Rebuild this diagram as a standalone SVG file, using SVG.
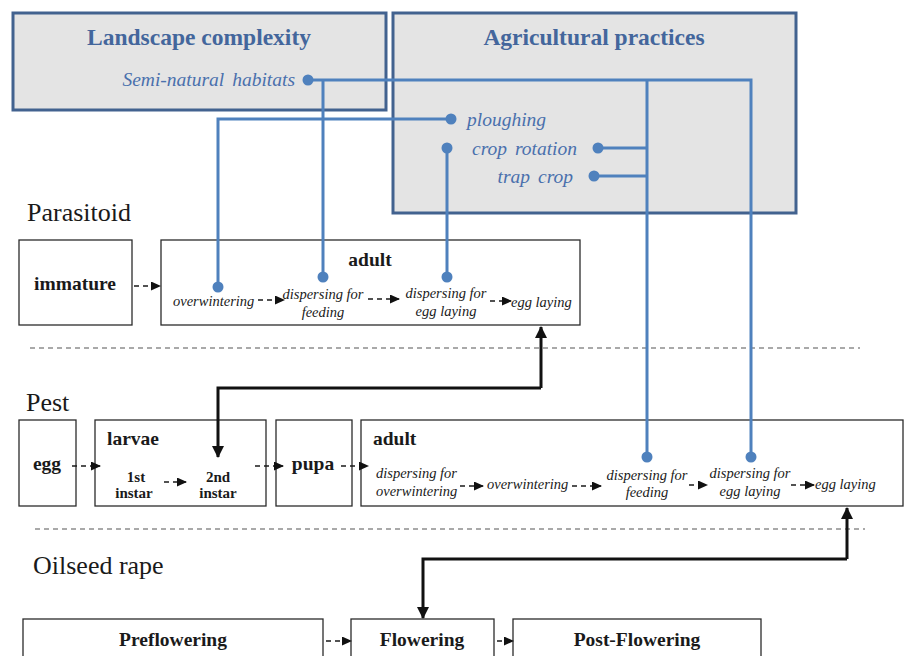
<svg xmlns="http://www.w3.org/2000/svg" width="905" height="656" viewBox="0 0 905 656">
<style>
text{font-family:"Liberation Serif","Times New Roman",serif}
.frame{fill:#e4e4e4;stroke:#42628f;stroke-width:3}
.title{font-size:23.5px;font-weight:bold;fill:#43669c;text-anchor:middle}
.prac{font-size:19.5px;font-style:italic;fill:#4a70ad}
.box{fill:#fff;stroke:#2b2b2b;stroke-width:1.3}
.b{font-size:19.5px;font-weight:bold;fill:#1a1a1a}
.bs{font-size:15px;font-weight:bold;fill:#1a1a1a;text-anchor:middle}
.i{font-size:14.5px;font-style:italic;fill:#1a1a1a}
.c{text-anchor:middle}
.row{font-size:26px;fill:#1a1a1a}
.blue{fill:none;stroke:#4f81bd;stroke-width:3}
.dot{fill:#4f81bd}
.dash{fill:none;stroke:#1a1a1a;stroke-width:1.5;stroke-dasharray:5 4;marker-end:url(#ah)}
.thick{fill:none;stroke:#111;stroke-width:3;marker-end:url(#big)}
.sep{stroke:#555;stroke-width:1.2;stroke-dasharray:5 4}
</style>
<defs>
<marker id="ah" markerWidth="10" markerHeight="9" refX="9" refY="4.5" orient="auto" markerUnits="userSpaceOnUse">
<path d="M0,0 L10,4.5 L0,9 Z" fill="#111"/>
</marker>
<marker id="big" markerWidth="12" markerHeight="12" refX="11" refY="6" orient="auto" markerUnits="userSpaceOnUse">
<path d="M0,0 L12,6 L0,12 Z" fill="#111"/>
</marker>
</defs>

<g id="landscape">
<rect class="frame" x="13" y="13" width="373" height="97"/>
<text class="title" x="199" y="45">Landscape complexity</text>
<text class="prac" x="295" y="86" text-anchor="end" word-spacing="3">Semi-natural habitats</text>
</g>
<g id="agricultural">
<rect class="frame" x="393" y="13" width="403" height="200"/>
<text class="title" x="594" y="45">Agricultural practices</text>
<text class="prac" x="467" y="126">ploughing</text>
<text class="prac" x="472" y="155" word-spacing="3">crop rotation</text>
<text class="prac" x="573" y="183" text-anchor="end" word-spacing="3">trap crop</text>
</g>

<g id="labels">
<text class="row" x="27" y="221">Parasitoid</text>
<text class="row" x="26" y="411">Pest</text>
<text class="row" x="33" y="574">Oilseed rape</text>
<line class="sep" x1="30" y1="348" x2="860" y2="348"/>
<line class="sep" x1="35" y1="529" x2="865" y2="529"/>
</g>

<g id="par-immature">
<rect class="box" x="19" y="240" width="113" height="85"/>
<text class="b c" x="75" y="290">immature</text>
</g>
<g id="par-adult">
<rect class="box" x="161" y="240" width="419" height="85"/>
<text class="b c" x="370" y="266">adult</text>
<text class="i" x="173" y="306">overwintering</text>
<text class="i c" x="323" y="299">dispersing for</text>
<text class="i c" x="323" y="317">feeding</text>
<text class="i c" x="446" y="298">dispersing for</text>
<text class="i c" x="446" y="316">egg laying</text>
<text class="i" x="511" y="307">egg laying</text>
</g>

<g id="pest-egg">
<rect class="box" x="19" y="420" width="57" height="86"/>
<text class="b c" x="47" y="470">egg</text>
</g>
<g id="pest-larvae">
<rect class="box" x="95" y="420" width="171" height="86"/>
<text class="b" x="107" y="445">larvae</text>
<text class="bs" x="136" y="482">1st</text>
<text class="bs" x="134" y="498">instar</text>
<text class="bs" x="218" y="482">2nd</text>
<text class="bs" x="218" y="498">instar</text>
</g>
<g id="pest-pupa">
<rect class="box" x="276" y="420" width="76" height="86"/>
<text class="b c" x="313" y="470">pupa</text>
</g>
<g id="pest-adult">
<rect class="box" x="361" y="420" width="542" height="86"/>
<text class="b" x="373" y="445">adult</text>
<text class="i" x="376" y="478">dispersing for</text>
<text class="i" x="376" y="496">overwintering</text>
<text class="i" x="487" y="489">overwintering</text>
<text class="i c" x="647" y="480">dispersing for</text>
<text class="i c" x="647" y="497">feeding</text>
<text class="i c" x="750" y="478">dispersing for</text>
<text class="i c" x="750" y="496">egg laying</text>
<text class="i" x="815" y="489">egg laying</text>
</g>

<g id="osr-preflowering">
<rect class="box" x="23" y="619" width="300" height="50"/>
<text class="b c" x="173" y="646">Preflowering</text>
</g>
<g id="osr-flowering">
<rect class="box" x="351" y="619" width="143" height="50"/>
<text class="b c" x="422" y="646">Flowering</text>
</g>
<g id="osr-postflowering">
<rect class="box" x="513" y="619" width="248" height="50"/>
<text class="b c" x="637" y="646">Post-Flowering</text>
</g>

<g id="connectors">
<path class="dash" d="M134,286 H160"/>
<path class="dash" d="M258,300 H284"/>
<path class="dash" d="M368,299 H399"/>
<path class="dash" d="M490,301 H511"/>
<path class="dash" d="M72,466 H100"/>
<path class="dash" d="M164,482 H186"/>
<path class="dash" d="M255,466 H283"/>
<path class="dash" d="M341,466 H368"/>
<path class="dash" d="M460,486 H483"/>
<path class="dash" d="M572,486 H601"/>
<path class="dash" d="M689,485 H707"/>
<path class="dash" d="M791,485 H814"/>
<path class="dash" d="M326,641 H351"/>
<path class="dash" d="M497,641 H513"/>

<path class="thick" d="M541,388 V327"/>
<path class="thick" d="M541,388 H218 V457"/>
<path class="thick" d="M847,559 V508"/>
<path class="thick" d="M847,559 H423 V618"/>

<path class="blue" d="M308,80 H751 V457"/>
<path class="blue" d="M323,80 V277"/>
<path class="blue" d="M647,80 V457"/>
<path class="blue" d="M451,119 H218 V287"/>
<path class="blue" d="M447,148 V277"/>
<path class="blue" d="M598,148 H647"/>
<path class="blue" d="M594,176 H647"/>
<circle class="dot" cx="308" cy="80" r="5.5"/>
<circle class="dot" cx="451" cy="119" r="5.5"/>
<circle class="dot" cx="447" cy="148" r="5.5"/>
<circle class="dot" cx="598" cy="148" r="5.5"/>
<circle class="dot" cx="594" cy="176" r="5.5"/>
<circle class="dot" cx="218" cy="287" r="5.5"/>
<circle class="dot" cx="323" cy="277" r="5.5"/>
<circle class="dot" cx="447" cy="277" r="5.5"/>
<circle class="dot" cx="647" cy="457" r="5.5"/>
<circle class="dot" cx="751" cy="457" r="5.5"/>
</g>
</svg>
